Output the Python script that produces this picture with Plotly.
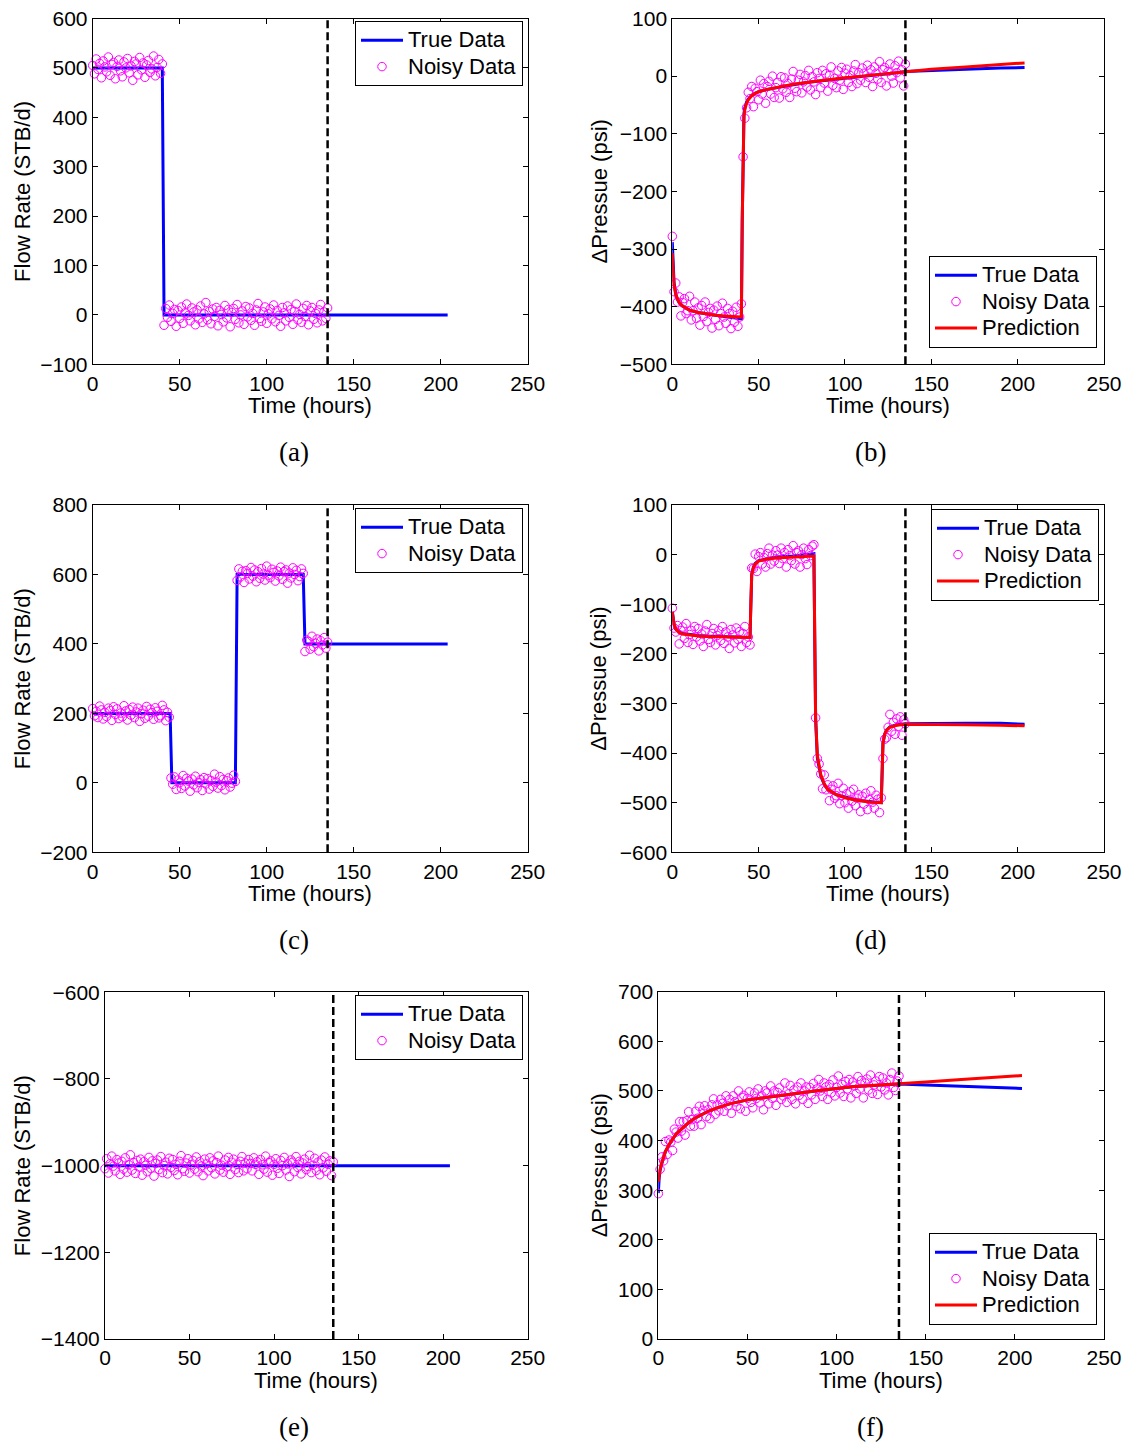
import plotly.graph_objects as go

W, H = 1126, 1443
FONT = "Liberation Sans, Arial, Helvetica, sans-serif"
SERIF = "Liberation Serif, Times New Roman, serif"
BLUE, RED, MAG = "#0000FF", "#FF0000", "#FF00FF"

# ---------------- data ----------------
hours = list(range(0, 136))          # sampling times of noisy data (hours)
t_cut = 135                           # end of history-matching window

# (a) flow rate, case 1
a_true_t = [0, 40, 41, 204]
a_true_q = [500, 500, 0, 0]
a_noisy_q = [505, 488, 518, 497, 509, 480, 514, 502, 492, 522,
             485, 507, 511, 478, 503, 516, 494, 482, 512, 500,
             519, 490, 504, 475, 513, 508, 486, 521, 496, 510,
             481, 506, 515, 491, 498, 524, 484, 501, 517, 489,
             508, -21, 13, -5, 20, -13, 3, 11, -23, 9,
             -7, 16, -17, 4, 22, -1, -12, 14, 6, -20,
             10, -8, 18, -15, 2, 25, -10, 7, -18, 12,
             -3, 15, -22, 9, 1, -14, 19, -6, 11, -24,
             5, 13, -9, 21, -16, 0, 8, -19, 17, -4,
             14, -11, 3, -21, 10, 23, -7, -13, 6, 16,
             -17, 2, 12, -8, 20, -14, 9, -1, -23, 15,
             4, -12, 18, -5, 11, -19, 7, 22, -10, 1,
             -15, 13, -3, 19, -20, 8, 15, -9, 3, -16,
             10, 21, -12, 6, -7, 14]

# (b) pressure change, case 1
b_curve_t = [0, 0.5, 1, 2, 3, 4, 6, 8, 10, 15, 20, 25, 30, 35, 40, 40.5, 41, 41.5,
             42, 43, 44, 46, 48, 50, 55, 60, 70, 80, 90, 100, 110, 120, 130, 135,
             150, 170, 190, 204]
b_true_p = [-288, -330, -358, -378, -388, -393, -399, -403, -406, -410, -413, -415,
            -417, -419, -421, -250, -90, -65, -55, -45, -40, -33, -30, -27, -23, -20,
            -15, -10, -7, -3, 0, 3, 6, 8, 10, 12, 14, 15]
b_pred_p = [-307, -340, -362, -379, -388, -393, -399, -403, -406, -410, -413, -415,
            -416, -417, -418, -250, -95, -70, -58, -47, -41, -34, -30, -27, -23, -20,
            -14, -10, -6, -3, 0, 3, 6, 8, 12, 16, 20, 23]
b_noisy_p = [-278, -374, -359, -392, -383, -416, -393, -386, -412, -407,
             -382, -423, -407, -392, -420, -402, -432, -398, -417, -392,
             -426, -410, -403, -437, -406, -422, -399, -433, -412, -394,
             -418, -429, -403, -412, -438, -408, -427, -401, -434, -418,
             -395, -140, -73, -55, -28, -39, -18, -53, -21, -27,
             -41, -7, -31, -13, -47, -18, -9, -31, 0, -37,
             -20, -11, -38, -1, -22, -3, -28, -13, -37, -5,
             8, -21, -27, -7, 3, -29, -10, 1, -19, 10,
             -24, -1, -10, -32, 6, -4, -20, 10, -12, 4,
             -26, 1, 16, -16, -4, -20, 9, -7, 15, -23,
             5, 12, -11, 1, -18, 9, 20, -13, 6, -7,
             14, 5, -11, 19, -2, 11, -18, 16, 5, -5,
             25, -11, 11, 15, -17, 8, 21, 0, -12, 18,
             6, 26, -3, 11, -17, 21]

# (c) flow rate, case 2
c_true_t = [0, 44.5, 45.5, 82, 83, 121, 122, 204]
c_true_q = [200, 200, 0, 0, 600, 600, 400, 400]
c_noisy_q = [214, 193, 206, 188, 221, 210, 184, 203, 191, 215,
             208, 180, 219, 197, 213, 185, 201, 190, 222, 207,
             181, 211, 195, 218, 188, 204, 215, 177, 199, 209,
             186, 220, 192, 212, 202, 183, 216, 206, 187, 193,
             223, 210, 179, 203, 189, 14, -4, 17, -19, 8,
             0, -16, 21, -9, 13, 5, -24, 11, -6, 19,
             -14, 1, 9, -22, 15, -3, 12, -18, 7, -10,
             25, 2, -15, 18, -8, 10, -20, 6, 14, -12,
             -1, 22, 4, 583, 616, 593, 609, 577, 611, 603,
             587, 620, 595, 613, 579, 608, 589, 617, 601, 584,
             624, 598, 591, 615, 606, 581, 610, 596, 621, 586,
             608, 613, 575, 604, 590, 619, 600, 612, 582, 594,
             616, 603, 378, 411, 407, 385, 422, 392, 402, 414,
             380, 409, 397, 418, 388, 405]

# (d) pressure change, case 2
d_curve_t = [0, 0.5, 1, 2, 3, 4, 6, 8, 10, 15, 20, 30, 40, 45, 45.5, 46, 47, 48, 50,
             55, 60, 70, 82, 82.5, 83, 84, 85, 86, 88, 90, 95, 100, 105, 110, 115, 121,
             121.5, 122, 123, 124, 126, 128, 130, 135, 150, 170, 190, 204]
d_true_p = [-115, -130, -140, -150, -154, -156, -159, -160, -161, -163, -164, -165,
            -166, -167, -100, -40, -25, -18, -12, -8, -5, -3, 2, -170, -330, -410,
            -432, -447, -463, -473, -484, -489, -493, -496, -498, -500, -440, -380,
            -362, -354, -347, -345, -343, -341, -340, -340, -340, -342]
d_pred_p = [-115, -130, -140, -150, -154, -157, -160, -161, -162, -164, -165, -166,
            -166, -167, -100, -40, -26, -19, -13, -9, -7, -5, -3, -170, -330, -405,
            -428, -444, -462, -473, -484, -490, -494, -497, -499, -500, -440, -380,
            -362, -354, -348, -346, -344, -342, -342, -343, -344, -345]
d_noisy_p = [-108, -148, -156, -143, -180, -153, -146, -169, -139, -177,
             -161, -153, -181, -145, -166, -149, -174, -160, -185, -154,
             -141, -171, -177, -159, -149, -182, -163, -153, -173, -145,
             -179, -156, -166, -189, -151, -162, -178, -148, -171, -155,
             -185, -159, -145, -177, -166, -182, -27, -28, 1, -34,
             -4, 4, -19, -6, -25, 2, 13, -19, -1, -13,
             8, -1, -18, 13, -8, 4, -25, 10, -2, -12,
             18, -19, 4, 8, -25, 0, 13, -8, -20, 10,
             -2, 17, 20, -329, -411, -422, -442, -472, -444, -474,
             -464, -496, -473, -466, -491, -486, -461, -502, -486, -471,
             -500, -482, -511, -478, -497, -473, -506, -491, -484, -518,
             -487, -503, -481, -514, -494, -476, -499, -511, -485, -493,
             -520, -490, -411, -372, -369, -348, -322, -356, -338, -362,
             -331, -346, -327, -364, -333, -341]

# (e) flow rate, case 3
e_true_t = [0, 204]
e_true_q = [-1000, -1000]
e_noisy_q = [-1007, -984, -1017, -996, -978, -1001, -1012, -986, -994, -1020,
             -990, -1008, -982, -1015, -998, -975, -1010, -993, -1018, -988,
             -1003, -985, -1022, -991, -999, -1014, -981, -1006, -989, -1024,
             -995, -987, -1009, -979, -1016, -1000, -992, -1019, -983, -1004,
             -986, -1011, -997, -1021, -990, -977, -1007, -1013, -994, -984,
             -1017, -998, -988, -1008, -980, -1014, -991, -1001, -1023, -985,
             -996, -1012, -982, -1005, -989, -1019, -993, -978, -1010, -999,
             -1015, -987, -1003, -981, -1020, -992, -985, -1009, -997, -1016,
             -990, -979, -1012, -994, -1007, -986, -995, -1012, -982, -997,
             -991, -1020, -986, -998, -1008, -978, -1015, -993, -989, -1022,
             -997, -984, -1006, -1018, -988, -1000, -981, -1010, -996, -1025,
             -987, -992, -1014, -979, -1004, -990, -1019, -994, -985, -1009,
             -1002, -976, -1016, -999, -983, -1011, -992, -1021, -987, -1005,
             -980, -1013, -997, -989, -1023, -991]

# (f) pressure change, case 3
f_curve_t = [0, 0.25, 0.5, 1, 2, 3, 4, 6, 8, 10, 12, 14, 17, 20, 24, 28, 33, 40, 50,
             60, 70, 80, 90, 100, 110, 120, 130, 135, 150, 170, 190, 204]
f_true_p = [294, 315, 325, 340, 355, 367, 378, 392, 403, 413, 420, 427, 436, 444, 452,
            459, 466, 474, 482, 487, 492, 496, 501, 505, 509, 511, 513, 514, 512, 510,
            507, 505]
f_pred_p = [317, 325, 330, 342, 356, 368, 378, 392, 403, 413, 420, 427, 436, 444, 452,
            459, 466, 474, 482, 487, 492, 496, 501, 505, 509, 511, 513, 514, 518, 523,
            527, 531]
f_noisy_p = [293, 342, 367, 359, 398, 372, 401, 397, 380, 423,
             417, 405, 438, 419, 438, 411, 440, 458, 429, 442,
             429, 459, 445, 469, 432, 461, 470, 448, 462, 444,
             472, 484, 453, 472, 460, 483, 475, 459, 490, 470,
             483, 455, 490, 478, 469, 500, 464, 487, 491, 459,
             485, 498, 477, 466, 496, 485, 504, 476, 490, 462,
             500, 496, 474, 510, 485, 500, 471, 497, 506, 483,
             490, 516, 477, 494, 511, 483, 502, 474, 508, 491,
             516, 483, 500, 508, 475, 507, 492, 515, 483, 504,
             523, 500, 489, 516, 508, 483, 513, 496, 522, 490,
             507, 530, 496, 513, 489, 519, 504, 523, 486, 518,
             510, 495, 529, 504, 521, 486, 516, 524, 502, 532,
             495, 512, 520, 493, 529, 508, 526, 502, 516, 492,
             523, 536, 507, 501, 520, 530]

# ---------------- layout geometry (pixels) ----------------
panels = [
    # letter, x px span, y px span, y range, y dtick, y title, legend (left, top)
    ("a", (92.7, 527.7), (18.5, 364.3), (-100, 600), 100, "Flow Rate (STB/d)", (355, 21)),
    ("b", (672.3, 1104), (18.5, 364.3), (-500, 100), 100, "ΔPressue (psi)", (929, 256)),
    ("c", (92.7, 527.7), (505, 852.3), (-200, 800), 200, "Flow Rate (STB/d)", (355, 508)),
    ("d", (672.3, 1104), (505, 852.3), (-600, 100), 100, "ΔPressue (psi)", (931, 509)),
    ("e", (105, 527.7), (992.3, 1339), (-1400, -600), 200, "Flow Rate (STB/d)", (355, 995)),
    ("f", (658.3, 1104), (991.7, 1339), (0, 700), 100, "ΔPressue (psi)", (929, 1233)),
]

series = {
    "a": dict(true=(a_true_t, a_true_q), noisy=a_noisy_q, pred=None),
    "b": dict(true=(b_curve_t, b_true_p), noisy=b_noisy_p, pred=(b_curve_t, b_pred_p)),
    "c": dict(true=(c_true_t, c_true_q), noisy=c_noisy_q, pred=None),
    "d": dict(true=(d_curve_t, d_true_p), noisy=d_noisy_p, pred=(d_curve_t, d_pred_p)),
    "e": dict(true=(e_true_t, e_true_q), noisy=e_noisy_q, pred=None),
    "f": dict(true=(f_curve_t, f_true_p), noisy=f_noisy_p, pred=(f_curve_t, f_pred_p)),
}

def leg_name(s):
    return '<span style="font-size:22px">' + s + '</span>'

fig = go.Figure()
layout = dict(width=W, height=H,
              margin=dict(l=0, r=0, t=0, b=0, pad=0, autoexpand=False),
              paper_bgcolor="white", plot_bgcolor="white", showlegend=True,
              font=dict(family=FONT, size=21, color="black"))
shapes, annotations = [], []

axis_style = dict(showline=True, linecolor="black", linewidth=1, mirror="ticks",
                  ticks="inside", ticklen=5, tickwidth=1, tickcolor="black",
                  showgrid=False, zeroline=False, automargin=False,
                  tickfont=dict(family=FONT, size=21, color="black"))

for k, (letter, xs, ys, yr, ydt, ytitle, leg) in enumerate(panels, start=1):
    sfx = "" if k == 1 else str(k)
    xref, yref = "x" + sfx, "y" + sfx
    lname = "legend" + sfx
    xdom = [xs[0] / W, xs[1] / W]
    ydom = [1 - ys[1] / H, 1 - ys[0] / H]
    layout["xaxis" + sfx] = dict(axis_style, domain=xdom, range=[0, 250], dtick=50,
                                 tick0=0, anchor=yref)
    layout["yaxis" + sfx] = dict(axis_style, domain=ydom, range=list(yr), dtick=ydt,
                                 tick0=yr[0], anchor=xref)
    layout[lname] = dict(x=leg[0] / W, y=1 - leg[1] / H, xanchor="left", yanchor="top",
                         bgcolor="white", bordercolor="black", borderwidth=1,
                         font=dict(family=FONT, size=18, color="black"),
                         itemwidth=42, tracegroupgap=0)
    s = series[letter]
    fig.add_trace(go.Scatter(x=s["true"][0], y=s["true"][1], mode="lines",
                             line=dict(color=BLUE, width=3), name=leg_name("True Data"),
                             xaxis=xref, yaxis=yref, legend=lname))
    fig.add_trace(go.Scatter(x=hours, y=s["noisy"], mode="markers",
                             marker=dict(symbol="circle-open", size=8.5, color=MAG,
                                         line=dict(width=1, color=MAG)),
                             name=leg_name("Noisy Data"), cliponaxis=False,
                             xaxis=xref, yaxis=yref, legend=lname))
    if s["pred"] is not None:
        fig.add_trace(go.Scatter(x=s["pred"][0], y=s["pred"][1], mode="lines",
                                 line=dict(color=RED, width=3), name=leg_name("Prediction"),
                                 xaxis=xref, yaxis=yref, legend=lname))
    shapes.append(dict(type="line", xref=xref, yref=yref + " domain", x0=t_cut, x1=t_cut,
                       y0=0, y1=1, line=dict(color="black", width=2.5, dash="8px,4px")))
    xc = (xs[0] + xs[1]) / 2
    yc = (ys[0] + ys[1]) / 2
    annotations.append(dict(text="Time (hours)", xref="paper", yref="paper",
                            x=xc / W, y=1 - (ys[1] + 41) / H, xanchor="center",
                            yanchor="middle", showarrow=False,
                            font=dict(family=FONT, size=22, color="black")))
    ytx = 22.5 if xs[0] < 300 else 599
    annotations.append(dict(text=ytitle, xref="paper", yref="paper", x=ytx / W,
                            y=1 - yc / H, xanchor="center", yanchor="middle",
                            textangle=-90, showarrow=False,
                            font=dict(family=FONT, size=22, color="black")))
    capx = 294 if xs[0] < 300 else 870
    annotations.append(dict(text="(" + letter + ")", xref="paper", yref="paper",
                            x=capx / W, y=1 - (ys[1] + 88) / H, xanchor="center",
                            yanchor="middle", showarrow=False,
                            font=dict(family=SERIF, size=27, color="black")))

layout["shapes"] = shapes
layout["annotations"] = annotations
fig.update_layout(**layout)
fig.write_html("out.html")
